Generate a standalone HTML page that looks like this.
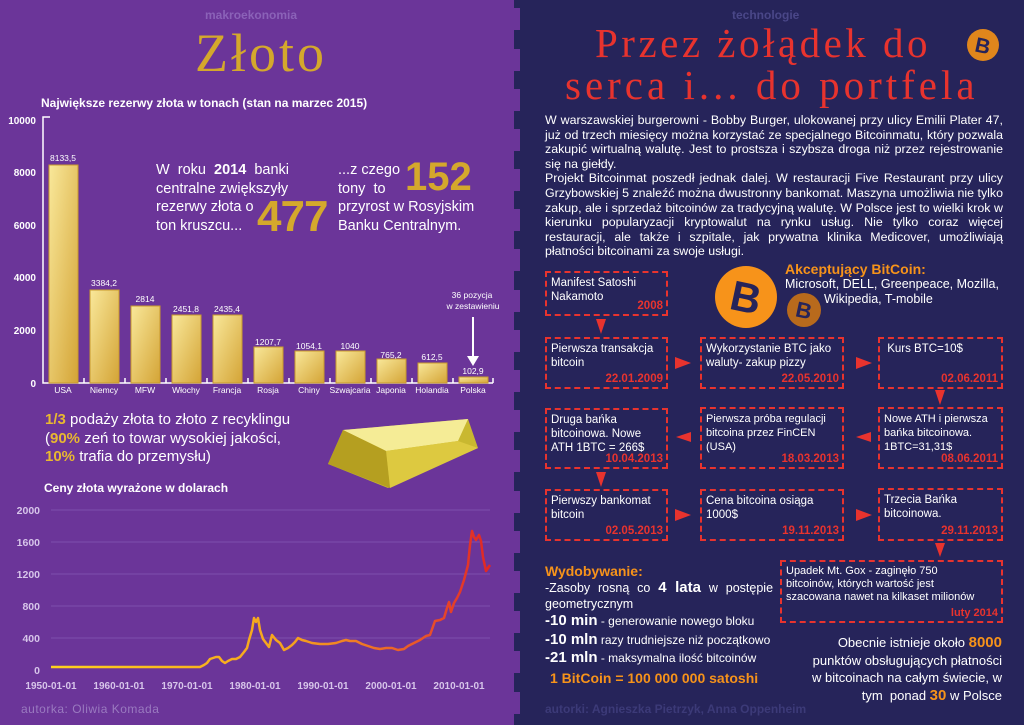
<!DOCTYPE html>
<html><head><meta charset="utf-8"><style>
*{margin:0;padding:0;box-sizing:border-box}
body{width:1024px;height:725px;position:relative;overflow:hidden;font-family:"Liberation Sans","DejaVu Sans",sans-serif;background:#26245a}
.a{position:absolute;white-space:nowrap}
#L{position:absolute;left:0;top:0;width:514px;height:725px;background:#6b3599}
.box{position:absolute;border:2px dashed #e8332e;color:#fff;font-size:11.5px;line-height:14px;padding:3px 4px;white-space:nowrap}
.box .d{position:absolute;right:3px;bottom:1px;color:#e8332e;font-weight:bold;font-size:11.5px}
.tab{position:absolute;left:512px;width:8px;height:22px;background:#6b3599}
</style></head><body>
<div id="L"></div>
<div class="tab" style="top:8px"></div><div class="tab" style="top:49px"></div><div class="tab" style="top:89px"></div><div class="tab" style="top:129px"></div><div class="tab" style="top:169px"></div><div class="tab" style="top:209px"></div><div class="tab" style="top:249px"></div><div class="tab" style="top:290px"></div><div class="tab" style="top:330px"></div><div class="tab" style="top:370px"></div><div class="tab" style="top:410px"></div><div class="tab" style="top:450px"></div><div class="tab" style="top:491px"></div><div class="tab" style="top:531px"></div><div class="tab" style="top:571px"></div><div class="tab" style="top:611px"></div><div class="tab" style="top:651px"></div><div class="tab" style="top:692px"></div>

<div class="a" style="left:205px;top:8px;color:#8b62b8;font-size:12px;font-weight:bold">makroekonomia</div>
<div class="a" style="left:195px;top:22px;color:#d4a82c;font-family:'Liberation Serif',serif;font-size:54px;letter-spacing:3px">Złoto</div>
<div class="a" style="left:41px;top:96px;color:#fff;font-size:12px;font-weight:bold">Największe rezerwy złota w tonach (stan na marzec 2015)</div>

<svg class="a" style="left:0;top:0" width="1024" height="725">
<defs><linearGradient id="g" x1="0" y1="0" x2="1" y2="1"><stop offset="0" stop-color="#f9e89a"/><stop offset="1" stop-color="#d4a436"/></linearGradient>
<linearGradient id="lg" x1="0" x2="1"><stop offset="0" stop-color="#ffd21e"/><stop offset=".55" stop-color="#f5a11e"/><stop offset=".85" stop-color="#e8532a"/><stop offset="1" stop-color="#e02626"/></linearGradient></defs>
<g font-family="Liberation Sans,sans-serif" font-size="10" font-weight="bold" fill="#fff" text-anchor="end">
<text x="36" y="124">10000</text><text x="36" y="176">8000</text><text x="36" y="229">6000</text><text x="36" y="281">4000</text><text x="36" y="334">2000</text><text x="36" y="387">0</text></g>
<path d="M50 117H43V383H493" stroke="#fff" stroke-width="1.5" fill="none"/>
<g stroke="#fff" stroke-width="1.5"><path d="M84 378v5M125 378v5M166 378v5M207 378v5M248 378v5M289 378v5M330 378v5M371 378v5M412 378v5M453 378v5M493 378v5"/></g>
<g fill="url(#g)" stroke="#c99a2c" stroke-width="1">
<rect x="49" y="165" width="29" height="218"/><rect x="90" y="290" width="29" height="93"/><rect x="131" y="306" width="29" height="77"/><rect x="172" y="315" width="29" height="68"/><rect x="213" y="315" width="29" height="68"/><rect x="254" y="347" width="29" height="36"/><rect x="295" y="351" width="29" height="32"/><rect x="336" y="351" width="29" height="32"/><rect x="377" y="359" width="29" height="24"/><rect x="418" y="363" width="29" height="20"/><rect x="459" y="377" width="29" height="6"/></g>
<g font-size="8.5" fill="#fff" text-anchor="middle" font-family="Liberation Sans,sans-serif">
<text x="63" y="161">8133,5</text><text x="104" y="286">3384,2</text><text x="145" y="302">2814</text><text x="186" y="312">2451,8</text><text x="227" y="312">2435,4</text><text x="268" y="345">1207,7</text><text x="309" y="349">1054,1</text><text x="350" y="349">1040</text><text x="391" y="358">765,2</text><text x="432" y="360">612,5</text><text x="473" y="374">102,9</text>
<text x="63" y="393">USA</text><text x="104" y="393">Niemcy</text><text x="145" y="393">MFW</text><text x="186" y="393">Włochy</text><text x="227" y="393">Francja</text><text x="268" y="393">Rosja</text><text x="309" y="393">Chiny</text><text x="350" y="393">Szwajcaria</text><text x="391" y="393">Japonia</text><text x="432" y="393">Holandia</text><text x="473" y="393">Polska</text>
<text x="472" y="298">36 pozycja</text><text x="473" y="309">w zestawieniu</text></g>
<path d="M473 317V358" stroke="#fff" stroke-width="2"/><path d="M467 356L473 366L479 356Z" fill="#fff"/>
<!-- gold bar -->
<polygon points="343,430 468,419 478,448 388,488 328,464" fill="#c9b830"/>
<polygon points="343,430 468,419 458,441 386,451" fill="#f5ec96"/>
<polygon points="386,451 458,441 478,448 390,488" fill="#ddc940"/>
<polygon points="328,464 343,430 386,451 390,488" fill="#b59f20"/>
<!-- line chart -->
<g stroke="#7d50ad" stroke-width="1"><path d="M51 510H490M51 542H490M51 574H490M51 606H490M51 638H490"/></g>
<g font-size="10.5" font-weight="bold" fill="#d7c5ea" text-anchor="end" font-family="Liberation Sans,sans-serif">
<text x="40" y="514">2000</text><text x="40" y="546">1600</text><text x="40" y="578">1200</text><text x="40" y="610">800</text><text x="40" y="642">400</text><text x="40" y="674">0</text></g>
<g font-size="10" font-weight="bold" fill="#d7c5ea" text-anchor="middle" font-family="Liberation Sans,sans-serif">
<text x="51" y="689">1950-01-01</text><text x="119" y="689">1960-01-01</text><text x="187" y="689">1970-01-01</text><text x="255" y="689">1980-01-01</text><text x="323" y="689">1990-01-01</text><text x="391" y="689">2000-01-01</text><text x="459" y="689">2010-01-01</text></g>
<path d="M51 667L200 667L204 665L207 663L210 659L213 658L216 657L219 657L222 661L225 663L228 661L232 659L236 659L240 657L244 652L247 648L249 640L252 630L254 618L256 622L258 618L260 630L263 639L266 643L269 647L272 635L276 640L280 643L284 650L288 648L292 645L295 642L298 638L302 640L306 641L312 643L320 644L328 644L336 643L342 641L346 640L350 641L356 641L362 644L368 646L374 648L380 649L386 648L392 648L398 650L404 649L408 646L414 643L420 640L426 636L430 635L435 621L440 620L444 618L447 608L449 602L451 612L454 603L457 598L460 592L464 580L468 565L470 545L472 531L474 537L476 540L479 535L481 541L483 557L486 571L488 568L490 565" stroke="url(#lg)" stroke-width="2.5" fill="none" stroke-linejoin="round"/>
<!-- coins -->
<circle cx="746" cy="297" r="31" fill="#f7931a"/><circle cx="804" cy="310" r="17" fill="#b86a1c"/><circle cx="983" cy="45" r="16" fill="#e0861c"/>
<g font-family="Liberation Sans,sans-serif" font-weight="bold" fill="#26245a" text-anchor="middle"><text x="746" y="312" font-size="42" transform="rotate(12 746 297)">B</text><text x="804" y="318" font-size="22" transform="rotate(12 804 310)">B</text><text x="983" y="53" font-size="21" fill="#26245a" transform="rotate(12 983 45)">B</text></g>
<!-- arrows -->
<g fill="#e8332e">
<path d="M596 319L606 319L601 334Z"/><path d="M675 357L675 369L691 363Z"/><path d="M856 357L856 369L872 363Z"/><path d="M935 390L945 390L940 405Z"/>
<path d="M691 432L691 442L676 437Z"/><path d="M871 432L871 442L856 437Z"/><path d="M596 472L606 472L601 487Z"/>
<path d="M675 509L675 521L691 515Z"/><path d="M856 509L856 521L872 515Z"/><path d="M935 543L945 543L940 557Z"/></g>
</svg>

<div class="a" style="left:156px;top:161px;color:#fff;font-size:14.5px;line-height:18.5px">W &nbsp;roku &nbsp;<b>2014</b> &nbsp;banki<br>centralne zwiększyły<br>rezerwy złota o<br>ton kruszcu...</div>
<div class="a" style="left:257px;top:192px;color:#d4a82c;font-size:44px;font-weight:bold;letter-spacing:-1px">477</div>
<div class="a" style="left:338px;top:161px;color:#fff;font-size:14.5px;line-height:18.5px">...z czego<br>tony &nbsp;to<br>przyrost w Rosyjskim<br>Banku Centralnym.</div>
<div class="a" style="left:405px;top:155px;color:#d4a82c;font-size:40px;font-weight:bold">152</div>
<div class="a" style="left:45px;top:411px;color:#fff;font-size:15px;line-height:18.5px"><span style="color:#e8b830;font-weight:bold">1/3</span> podaży złota to złoto z recyklingu<br>(<span style="color:#e8b830;font-weight:bold">90%</span> zeń to towar wysokiej jakości,<br><span style="color:#e8b830;font-weight:bold">10%</span> trafia do przemysłu)</div>
<div class="a" style="left:44px;top:481px;color:#fff;font-size:12px;font-weight:bold">Ceny złota wyrażone w dolarach</div>
<div class="a" style="left:21px;top:702px;color:#9a7ac0;font-size:12px;letter-spacing:.5px">autorka: Oliwia Komada</div>

<div class="a" style="left:732px;top:8px;color:#4a4788;font-size:12px;font-weight:bold">technologie</div>
<div class="a" style="left:595px;top:22px;color:#e8332e;font-family:'Liberation Serif',serif;font-size:41px;letter-spacing:3.5px;line-height:42px">Przez żołądek do</div>
<div class="a" style="left:565px;top:64px;color:#e8332e;font-family:'Liberation Serif',serif;font-size:41px;letter-spacing:4px;line-height:42px">serca i... do portfela</div>
<div class="a" style="left:545px;top:113px;width:458px;white-space:normal;color:#fff;font-size:12.4px;line-height:14.6px;text-align:justify">W warszawskiej burgerowni - Bobby Burger, ulokowanej przy ulicy Emilii Plater 47, już od trzech miesięcy można korzystać ze specjalnego Bitcoinmatu, który pozwala zakupić wirtualną walutę. Jest to prostsza i szybsza droga niż przez rejestrowanie się na giełdy.<br>Projekt Bitcoinmat poszedł jednak dalej. W restauracji Five Restaurant przy ulicy Grzybowskiej 5 znaleźć można dwustronny bankomat. Maszyna umożliwia nie tylko zakup, ale i sprzedaż bitcoinów za tradycyjną walutę. W Polsce jest to wielki krok w kierunku popularyzacji kryptowalut na rynku usług. Nie tylko coraz więcej restauracji, ale także i szpitale, jak prywatna klinika Medicover, umożliwiają płatności bitcoinami za swoje usługi.</div>
<div class="a" style="left:785px;top:261px;color:#f7931a;font-size:14px;font-weight:bold">Akceptujący BitCoin:</div>
<div class="a" style="left:785px;top:277px;color:#fff;font-size:12.5px;line-height:15px">Microsoft, DELL, Greenpeace, Mozilla,</div>
<div class="a" style="left:824px;top:292px;color:#fff;font-size:12.5px;line-height:15px">Wikipedia, T-mobile</div>

<div class="box" style="left:545px;top:271px;width:123px;height:45px">Manifest Satoshi<br>Nakamoto<span class="d">2008</span></div>
<div class="box" style="left:545px;top:337px;width:123px;height:52px">Pierwsza transakcja<br>bitcoin<span class="d">22.01.2009</span></div>
<div class="box" style="left:700px;top:337px;width:144px;height:52px">Wykorzystanie BTC jako<br>waluty- zakup pizzy<span class="d">22.05.2010</span></div>
<div class="box" style="left:878px;top:337px;width:125px;height:52px">&nbsp;Kurs BTC=10$<span class="d">02.06.2011</span></div>
<div class="box" style="left:545px;top:408px;width:123px;height:61px">Druga bańka<br>bitcoinowa. Nowe<br>ATH 1BTC = 266$<span class="d">10.04.2013</span></div>
<div class="box" style="left:700px;top:407px;width:144px;height:62px;font-size:11px">Pierwsza próba regulacji<br>bitcoina przez FinCEN<br>(USA)<span class="d">18.03.2013</span></div>
<div class="box" style="left:878px;top:407px;width:125px;height:62px;font-size:11px">Nowe ATH i pierwsza<br>bańka bitcoinowa.<br>1BTC=31,31$<span class="d">08.06.2011</span></div>
<div class="box" style="left:545px;top:489px;width:123px;height:52px">Pierwszy bankomat<br>bitcoin<span class="d">02.05.2013</span></div>
<div class="box" style="left:700px;top:489px;width:144px;height:52px">Cena bitcoina osiąga<br>1000$<span class="d">19.11.2013</span></div>
<div class="box" style="left:878px;top:488px;width:125px;height:53px">Trzecia Bańka<br>bitcoinowa.<span class="d">29.11.2013</span></div>
<div class="box" style="left:780px;top:560px;width:223px;height:63px;font-size:11px;line-height:13px">Upadek Mt. Gox - zaginęło 750<br>bitcoinów, których wartość jest<br>szacowana nawet na kilkaset milionów<span class="d" style="font-size:11px">luty 2014</span></div>

<div class="a" style="left:545px;top:563px;color:#f7931a;font-size:14px;font-weight:bold">Wydobywanie:</div>
<div class="a" style="left:545px;top:580px;color:#fff;font-size:12.5px;line-height:16px;width:228px;white-space:normal;text-align:justify">-Zasoby rosną co <b style="font-size:15px">4 lata</b> w postępie geometrycznym</div>
<div class="a" style="left:545px;top:612px;color:#fff;font-size:12px;line-height:17.5px"><b style="font-size:15px">-10 min</b> - generowanie nowego bloku<br><b style="font-size:15px">-10 mln</b> razy trudniejsze niż początkowo<br><b style="font-size:15px">-21 mln</b> - maksymalna ilość bitcoinów</div>
<div class="a" style="left:550px;top:670px;color:#f7931a;font-size:14px;font-weight:bold">1 BitCoin = 100 000 000 satoshi</div>
<div class="a" style="left:760px;top:634px;width:242px;color:#fff;font-size:13px;line-height:17.5px;text-align:right">Obecnie istnieje około <b style="color:#f7931a;font-size:15px">8000</b><br>punktów obsługujących płatności<br>w bitcoinach na całym świecie, w<br>tym &nbsp;ponad <b style="color:#f7931a;font-size:15px">30</b> w Polsce</div>
<div class="a" style="left:545px;top:702px;color:#3c3a78;font-size:12px;font-weight:bold">autorki: Agnieszka Pietrzyk, Anna Oppenheim</div>
</body></html>
